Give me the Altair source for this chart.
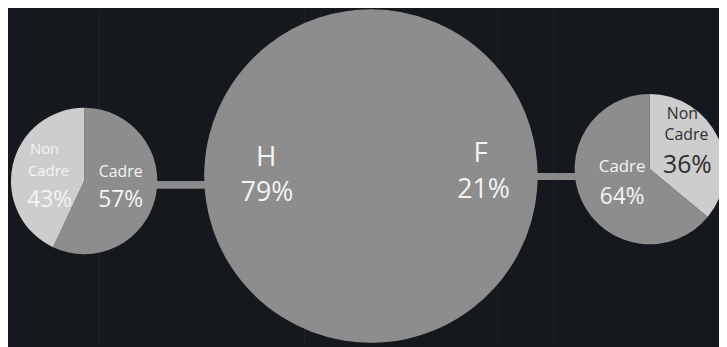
import altair as alt
import pandas as pd

# ---- data ----
gender_cats = ["H", "F"]
gender_pct = [79, 21]
left_cats = ["Cadre", "Non Cadre"]      # pie linked to H
left_pct = [57, 43]
right_cats = ["Non Cadre", "Cadre"]     # pie linked to F
right_pct = [36, 64]

# ---- layout (page pixel coords) ----
OFF = 8
W, H = 727 - OFF, 347 - OFF
BG = "#15181c"
MID = "#8d8d8d"
LIGHT = "#cdcdcd"
FONT = "Open Sans"


def px(v):
    return v - OFF


big = dict(cx=375, cy=176, r=168)
lpie = dict(cx=85, cy=181, r=74)
rpie = dict(cx=657, cy=169, r=76)

# faint vertical streaks of the background
streak_x = [100, 308, 372, 503, 560]
streaks = alt.Chart(pd.DataFrame({"x": [px(v) for v in streak_x]})).mark_rule(
    color="#3a3f45", opacity=0.35, strokeWidth=1
).encode(x=alt.X("x:Q", scale=None), y=alt.value(0), y2=alt.value(H))

# connector bars
conn = pd.DataFrame({
    "x": [px(150), px(535)], "x2": [px(215), px(592)],
    "y": [px(181), px(173)], "y2": [px(189), px(180)],
})
bars = alt.Chart(conn).mark_rect(color="#8a8a8a").encode(
    x=alt.X("x:Q", scale=None), x2="x2:Q",
    y=alt.Y("y:Q", scale=None), y2="y2:Q",
)


def pie(cats, vals, shades, c, stroke=None):
    df = pd.DataFrame({"cat": cats, "pct": vals, "ord": list(range(len(cats))), "shade": shades})
    kw = dict(outerRadius=c["r"])
    if stroke:
        kw.update(stroke=stroke, strokeWidth=1.2)
    else:
        kw.update(strokeWidth=0)
    return alt.Chart(df).mark_arc(**kw).encode(
        theta=alt.Theta("pct:Q", stack=True),
        order=alt.Order("ord:Q"),
        color=alt.Color("shade:N", scale=None),
        x=alt.value(px(c["cx"])),
        y=alt.value(px(c["cy"])),
    )


big_pie = pie(gender_cats, gender_pct, [MID, MID], big, stroke=MID)
left_pie = pie(left_cats, left_pct, [MID, LIGHT], lpie)
right_pie = pie(right_cats, right_pct, [LIGHT, MID], rpie)

# labels built from data + layout positions
rows = []
WHITE = "#f4f4f4"
DARK = "#2e2e2e"
# big circle
rows += [
    (gender_cats[0], 269, 158, 28, WHITE),
    (f"{gender_pct[0]}%", 270, 193, 27, WHITE),
    (gender_cats[1], 486, 154, 28, WHITE),
    (f"{gender_pct[1]}%", 489, 190, 27, WHITE),
]
# left pie
rows += [
    ("Non", 45, 149, 15, WHITE),
    ("Cadre", 49, 171, 15, WHITE),
    (f"{left_pct[1]}%", 50, 200, 23, WHITE),
    (left_cats[0], 122, 172, 16, WHITE),
    (f"{left_pct[0]}%", 122, 200, 23, WHITE),
]
# right pie
rows += [
    ("Non", 690, 113, 16, DARK),
    ("Cadre", 694, 135, 16, DARK),
    (f"{right_pct[0]}%", 695, 165, 25, DARK),
    (right_cats[1], 629, 167, 17, WHITE),
    (f"{right_pct[1]}%", 629, 197, 23, WHITE),
]
lab = pd.DataFrame(rows, columns=["text", "x", "y", "size", "col"])
lab["x"] = lab["x"] - OFF
lab["y"] = lab["y"] - OFF
labels = alt.Chart(lab).mark_text(font=FONT, align="center", baseline="middle").encode(
    x=alt.X("x:Q", scale=None),
    y=alt.Y("y:Q", scale=None),
    text="text:N",
    size=alt.Size("size:Q", scale=None),
    color=alt.Color("col:N", scale=None),
)

chart = alt.layer(
    streaks, bars, big_pie, left_pie, right_pie, labels
).resolve_scale(theta="independent").properties(
    width=W, height=H, background=BG, padding=0,
    autosize=alt.AutoSizeParams(type="none"),
).configure_view(stroke=None)

chart.save("out.html", embed_options={"renderer": "svg", "actions": False})
